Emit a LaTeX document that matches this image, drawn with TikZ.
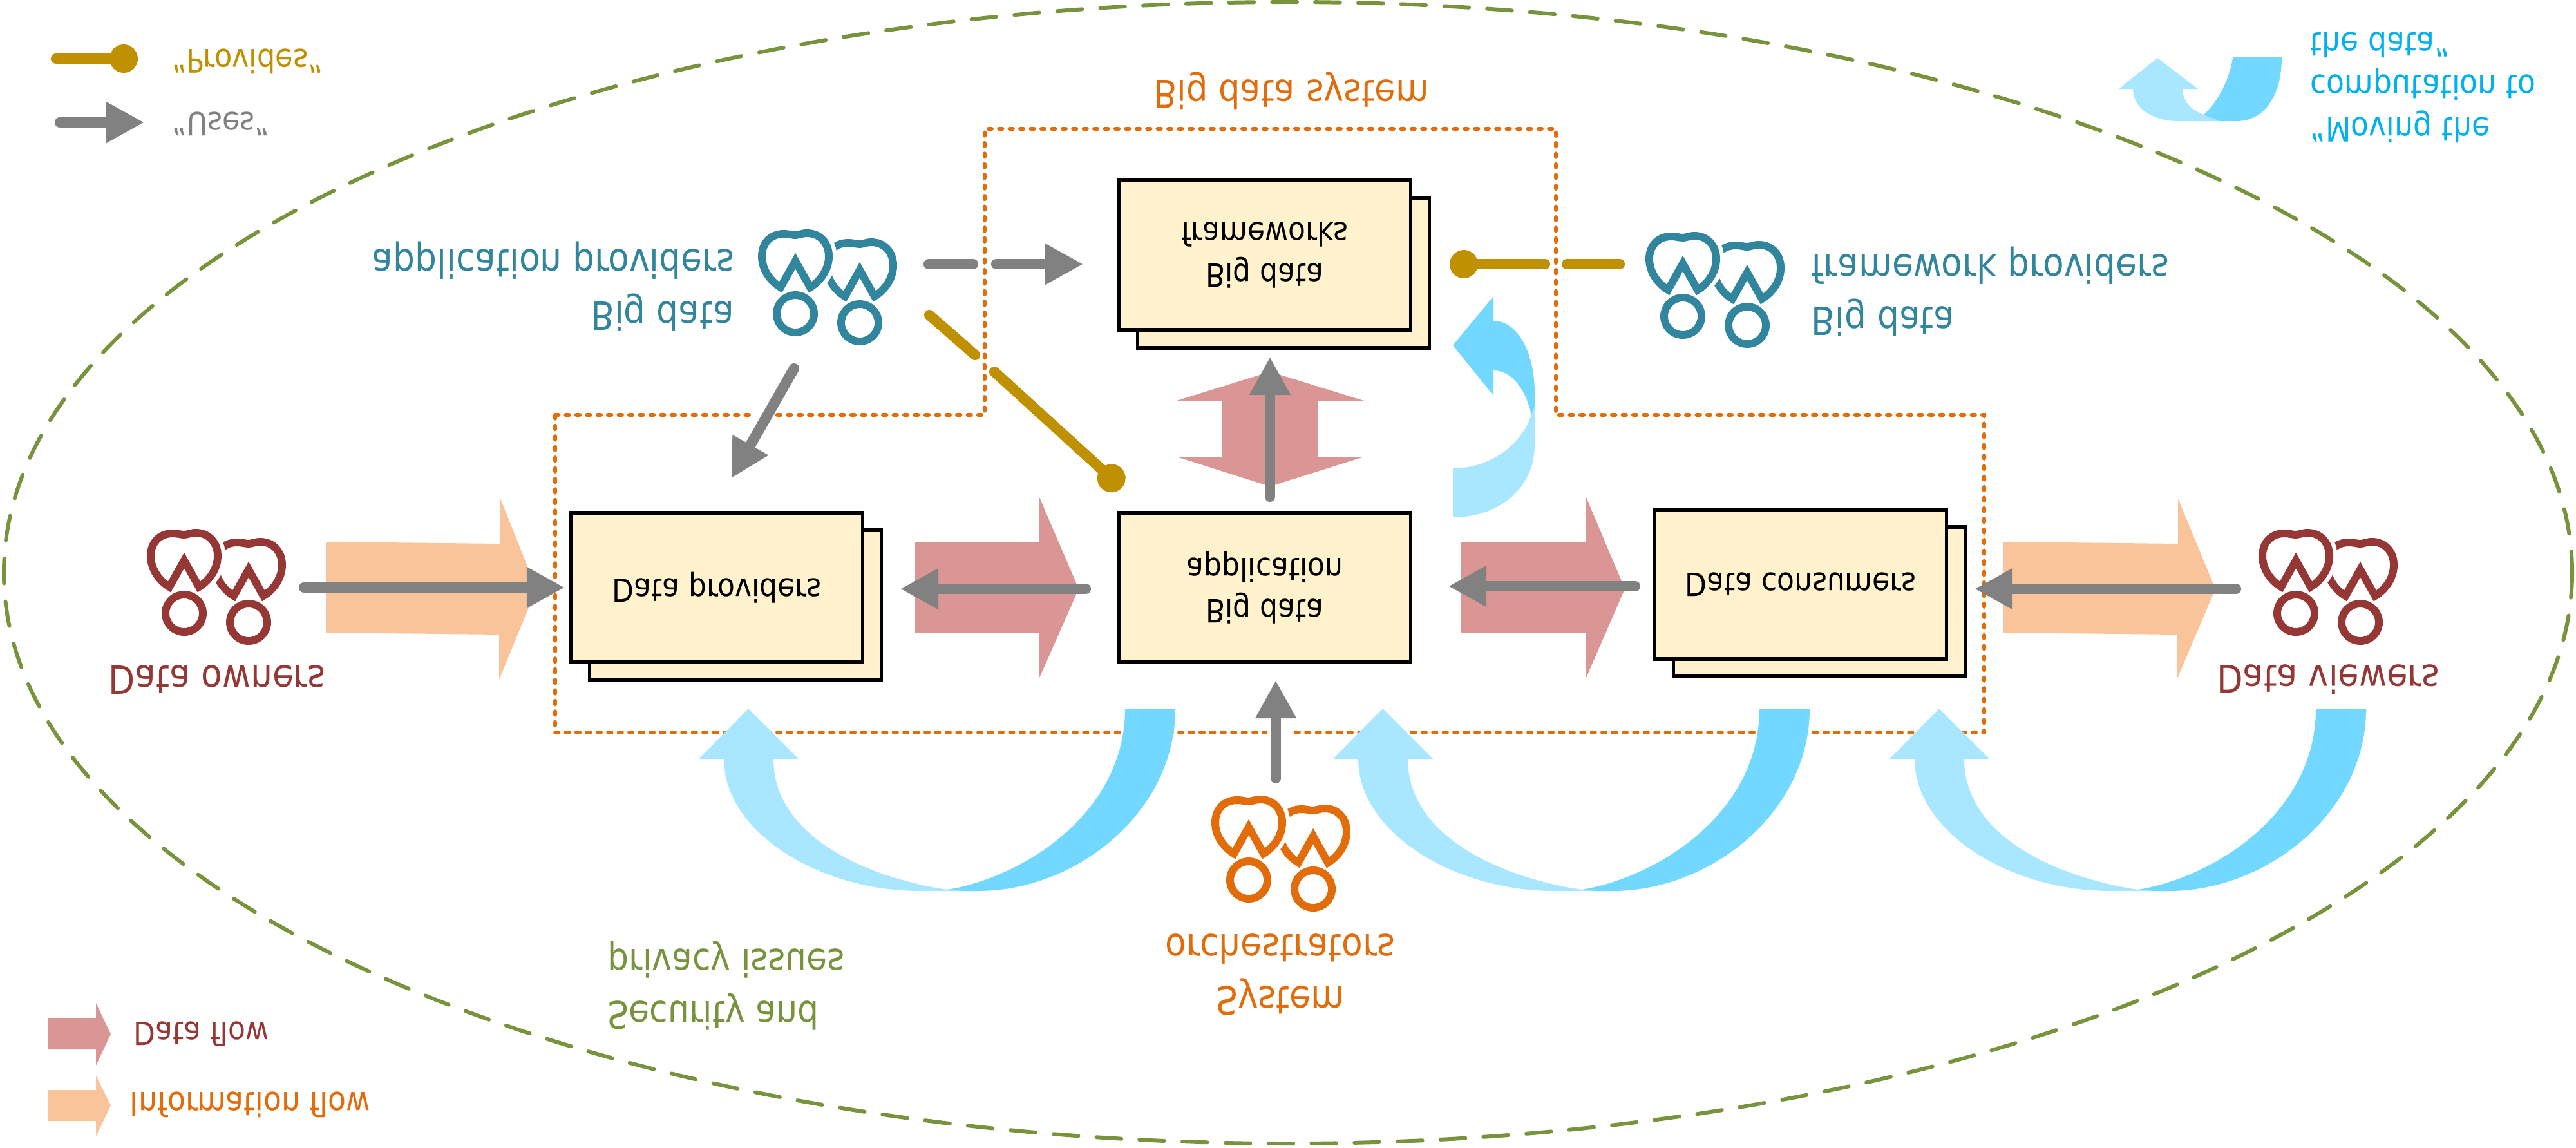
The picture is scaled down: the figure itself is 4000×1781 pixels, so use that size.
\documentclass[tikz,border=0pt]{standalone}
\usepackage{fontspec}
\setmainfont{DejaVu Sans}
\usetikzlibrary{arrows.meta}
\definecolor{tealc}{HTML}{31859C}
\definecolor{redc}{HTML}{953735}
\definecolor{orangec}{HTML}{E36C0A}
\definecolor{goldc}{HTML}{BF9000}
\definecolor{greenc}{HTML}{77933C}
\definecolor{skyc}{HTML}{00B0F0}
\definecolor{creamc}{HTML}{FFF2CC}
\definecolor{pinkc}{HTML}{D99694}
\definecolor{peachc}{HTML}{F9C49A}
\definecolor{bluedark}{HTML}{72D8FF}
\definecolor{bluelight}{HTML}{A9E6FF}
\tikzset{
  flipped/.style={yscale=-1.13,inner sep=0pt},
  labelbig/.style={flipped,font=\fontsize{15.2}{20.4}\selectfont},
  labelsmall/.style={flipped,font=\fontsize{12.5}{17}\selectfont},
  boxtext/.style={flipped,font=\fontsize{12.5}{16}\selectfont,align=center},
  backbox/.style={draw=black,fill=creamc,line width=1.6pt,minimum width=4.53cm,minimum height=2.32cm,inner sep=0pt},
  frontbox/.style={backbox},
  uses/.style={draw=gray!99,line width=4.6pt,line cap=round,-{Triangle[length=16.8pt,width=17pt]}},
  usesplain/.style={draw=gray!99,line width=4.6pt,line cap=round},
  provides/.style={draw=goldc,line width=4.6pt,line cap=round,-{Circle[length=12.5pt]}},
  providesplain/.style={draw=goldc,line width=4.6pt,line cap=round},
}
% one pair of stick figures, #1 = head of the front one
\newcommand{\actorbody}{(0,-82) -- (-23,-41) .. controls (-38,-50) and (-52,-68) .. (-52,-89) .. controls (-52,-110) and (-38,-124) .. (-18,-124) .. controls (-10,-124) and (-5,-122) .. (0,-122) .. controls (5,-122) and (10,-125) .. (18,-125) .. controls (38,-125) and (52,-110) .. (52,-89) .. controls (52,-68) and (38,-50) .. (23,-41) -- cycle}
\newcommand{\actorpair}[2]{
  \begin{scope}[shift={#1},line width=3.4pt,draw=#2,miter limit=4]
    \begin{scope}[shift={(100,14)}]
      \draw \actorbody;
      \draw (0,0) circle[radius=29];
    \end{scope}
    \draw[draw=white,fill=white,line width=7pt] \actorbody;
    \draw \actorbody;
    \draw (0,0) circle[radius=29];
  \end{scope}
}
% the curved blue arrow, #1 = point where both colours meet
\newcommand{\movearrow}[1]{
  \begin{scope}[shift={#1}]
    \fill[bluelight] (-347,-203) .. controls (-347,-90) and (-200,2) .. (-42,2) -- (48,2) -- (0,0) .. controls (-120,-18) and (-270,-80) .. (-270,-203) -- (-231,-203) -- (-309,-281) -- (-386,-203) -- cycle;
    \fill[bluedark] (0,0) .. controls (120,-20) and (276,-120) .. (276,-281) -- (354,-281) .. controls (354,-120) and (200,2) .. (48,2) -- (25,2) -- cycle;
  \end{scope}
}
\begin{document}
\begin{tikzpicture}[x=0.01cm,y=-0.01cm]
\useasboundingbox (0,0) rectangle (4000,1781);
% outer ellipse and system border
\draw[greenc,line width=1.7pt,line cap=round,dash pattern=on 11pt off 8pt] (2000,889) ellipse[x radius=1994,y radius=886];
\draw[orangec,line width=1.7pt,line cap=round,dash pattern=on 1.5pt off 3.17pt] (862,644) -- (1529,644) -- (1529,200) -- (2416,200) -- (2416,644) -- (3081,644) -- (3081,1137) -- (862,1137) -- cycle;
\fill[white] (1169,635) rectangle (1202,653);
\fill[white] (1968,1128) rectangle (2005,1146);
% fat arrows
\fill[peachc] (506,841) -- (777,844) -- (777,774) -- (833,914) -- (775,1055) -- (775,985) -- (506,982) -- cycle;
\fill[peachc] (3111,841) -- (3382,844) -- (3382,774) -- (3440,914) -- (3380,1055) -- (3380,985) -- (3110,982) -- cycle;
\fill[pinkc] (1421,841) -- (1614,841) -- (1614,772) -- (1675,914) -- (1614,1052) -- (1614,982) -- (1421,982) -- cycle;
\fill[pinkc] (2269,841) -- (2463,841) -- (2463,772) -- (2523,914) -- (2463,1052) -- (2463,982) -- (2269,982) -- cycle;
\fill[pinkc] (1972,577) -- (2118,622) -- (2046,622) -- (2046,709) -- (2118,709) -- (1972,755) -- (1827,709) -- (1898,709) -- (1898,622) -- (1827,622) -- cycle;
\fill[pinkc] (75,1580) -- (149,1580) -- (149,1557) -- (172,1605) -- (149,1654) -- (149,1629) -- (75,1629) -- cycle;
\fill[peachc] (75,1692) -- (149,1692) -- (149,1669) -- (172,1716) -- (149,1764) -- (149,1740) -- (75,1740) -- cycle;
% curved blue arrows
\movearrow{(1471,1381)}
\movearrow{(2456,1381)}
\movearrow{(3320,1381)}
\fill[bluelight] (3312,138) .. controls (3312,170) and (3345,188) .. (3383,188) -- (3447,188) -- (3422,178) .. controls (3400,170) and (3389,155) .. (3389,138) -- (3413,138) -- (3350,90) -- (3290,138) -- cycle;
\fill[bluedark] (3467,89) .. controls (3462,125) and (3442,160) .. (3422,178) -- (3447,188) -- (3473,188) .. controls (3515,188) and (3543,150) .. (3543,89) -- cycle;
\fill[bluelight] (2378,644) .. controls (2360,695) and (2310,727) .. (2256,727) -- (2256,803) .. controls (2325,803) and (2383,760) .. (2383,690) -- (2383,630) -- cycle;
\fill[bluedark] (2319,460) -- (2256,536) -- (2319,614) -- (2319,575) .. controls (2345,575) and (2368,600) .. (2378,644) -- (2383,630) -- (2383,610) .. controls (2383,550) and (2358,498) .. (2319,498) -- cycle;
% boxes
\node[backbox] (providersback) at (1142,939) {};
\node[frontbox] (providers) at (1113,912) {};
\node[boxtext] (providerstext) at (providers.center) {Data providers};
\node[backbox] (frameworksback) at (1993,424) {};
\node[frontbox] (frameworks) at (1964,396) {};
\node[boxtext] (frameworkstext) at (frameworks.center) {Big data\\frameworks};
\node[frontbox] (application) at (1964,912) {};
\node[boxtext] (applicationtext) at (application.center) {Big data\\application};
\node[backbox] (consumersback) at (2825,934) {};
\node[frontbox] (consumers) at (2796,907) {};
\node[boxtext] (consumerstext) at (consumers.center) {Data consumers};
% stick figures
\actorpair{(286,952)}{redc}
\actorpair{(3565,952)}{redc}
\actorpair{(1235,487)}{tealc}
\actorpair{(2613,491)}{tealc}
\actorpair{(1939,1366)}{orangec}
% connector ends
\coordinate (usesa) at (93,190);
\coordinate (usesb) at (224,190);
\coordinate (appa) at (1442,410);
\coordinate (appb) at (1511,410);
\coordinate (appc) at (1547,410);
\coordinate (appd) at (1682,410);
\coordinate (appe) at (1233,572);
\coordinate (appf) at (1136,742);
\coordinate (ownera) at (472,912);
\coordinate (ownerb) at (877,912);
\coordinate (flowa) at (1686,914);
\coordinate (flowb) at (1398,914);
\coordinate (flowc) at (2539,910);
\coordinate (flowd) at (2249,910);
\coordinate (viewera) at (3472,914);
\coordinate (viewerb) at (3066,914);
\coordinate (updown) at (1972,771);
\coordinate (updownb) at (1972,554);
\coordinate (orcha) at (1981,1208);
\coordinate (orchb) at (1981,1056);
\coordinate (provlega) at (87,91);
\coordinate (provlegb) at (214,91);
\coordinate (fwa) at (2515,410);
\coordinate (fwb) at (2433,410);
\coordinate (fwc) at (2399,410);
\coordinate (fwd) at (2251,410);
\coordinate (provappa) at (1443,489);
\coordinate (provappb) at (1514,551);
\coordinate (provappc) at (1544,577);
\coordinate (provappd) at (1742,757);
% uses
\draw[uses] (usesa) -- (usesb);
\draw[usesplain] (appa) -- (appb);
\draw[uses] (appc) -- (appd);
\draw[uses] (appe) -- (appf);
\draw[uses] (ownera) -- (ownerb);
\draw[uses] (flowa) -- (flowb);
\draw[uses] (flowc) -- (flowd);
\draw[uses] (viewera) -- (viewerb);
\draw[uses] (updown) -- (updownb);
\draw[uses] (orcha) -- (orchb);
% provides
\draw[provides] (provlega) -- (provlegb);
\draw[providesplain] (fwa) -- (fwb);
\draw[provides] (fwc) -- (fwd);
\draw[providesplain] (provappa) -- (provappb);
\draw[provides] (provappc) -- (provappd);
% labels
\node[labelsmall,goldc,anchor=west,font=\fontsize{12.7}{17}\selectfont] (legprovides) at (267,95) {“Provides”};
\node[labelsmall,gray!99,anchor=west] (leguses) at (267,192) {“Uses”};
\node[labelsmall,redc,anchor=west] (legdata) at (207,1605) {Data flow};
\node[labelsmall,orangec,anchor=west,font=\fontsize{13}{17}\selectfont] (leginfo) at (201,1715) {Information flow};
\node[labelbig,tealc,align=right,anchor=east] (appprov) at (1141,445) {Big data\\application providers};
\node[labelbig,tealc,align=left,anchor=west] (fwprov) at (2812,453) {Big data\\framework providers};
\node[labelbig,orangec,font=\fontsize{15}{20}\selectfont] (systemname) at (2005,141) {Big data system};
\node[labelbig,skyc,align=left,anchor=west,font=\fontsize{13}{16.6}\selectfont] (moving) at (3587,136) {“Moving the\\computation to\\the data”};
\node[labelbig,redc] (owners) at (337,1055) {Data owners};
\node[labelbig,redc,font=\fontsize{15}{20}\selectfont] (viewers) at (3615,1055) {Data viewers};
\node[labelbig,greenc,align=left,anchor=west,font=\fontsize{14.8}{20.4}\selectfont] (security) at (943,1530) {Security and\\privacy issues};
\node[labelbig,orangec,align=center] (orchestrators) at (1988,1513) {System\\orchestrators};
\end{tikzpicture}
\end{document}
